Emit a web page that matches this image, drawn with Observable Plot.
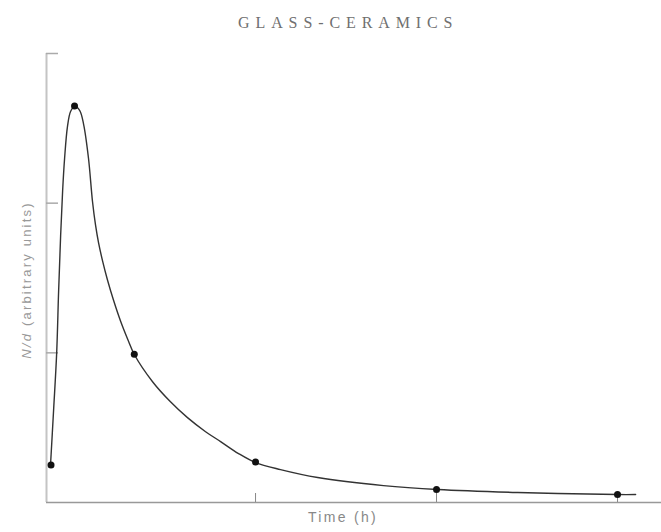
<!DOCTYPE html>
<html>
<head>
<meta charset="utf-8">
<script src="https://cdn.jsdelivr.net/npm/d3@7"></script>
<script src="https://cdn.jsdelivr.net/npm/@observablehq/plot@0.6"></script>
<style>
  body { margin: 0; background: #fff; }
  #title { height: 40px; width: 661px; position: relative; }
  #title span { position: absolute; left: 238px; top: 14px; font-family: "Liberation Serif", "DejaVu Serif", serif; font-size: 16px; letter-spacing: 5.9px; color: #6f6f6f; white-space: nowrap; }
  #chart svg { display: block; }
</style>
</head>
<body>
<div id="title"><span id="titleText"></span></div>
<div id="chart"></div>
<script>
const titleText = "GLASS-CERAMICS";
const xLabel = "Time (h)";
const yLabel = "N/d (arbitrary units)";

// measured data points (arbitrary units)
const pointT = [-0.13, 0, 0.33, 1, 2, 3];
const pointN = [0.25, 2.65, 0.99, 0.27, 0.087, 0.053];

// traced fitted curve
const curveT = [-0.133, -0.116, -0.099, -0.088, -0.077, -0.066, -0.055, -0.039, -0.022, 0, 0.028, 0.050, 0.077, 0.099, 0.116, 0.133, 0.155, 0.182, 0.215, 0.254, 0.293, 0.331, 0.431, 0.530, 0.624, 0.724, 0.807, 0.906, 1.0, 1.138, 1.343, 1.707, 2.006, 2.448, 3.0, 3.1];
const curveN = [0.247, 0.613, 0.993, 1.413, 1.78, 2.08, 2.30, 2.513, 2.613, 2.647, 2.62, 2.527, 2.30, 2.013, 1.853, 1.733, 1.613, 1.487, 1.353, 1.213, 1.093, 0.987, 0.807, 0.673, 0.567, 0.473, 0.407, 0.327, 0.267, 0.22, 0.167, 0.113, 0.087, 0.067, 0.053, 0.053];

const xTicks = [1, 2, 3];
const yTicks = [1, 2, 3];
const xDomain = [-0.155, 3.243];
const yDomain = [0, 3];

document.getElementById("titleText").textContent = titleText;

const points = pointT.map((t, i) => ({t, n: pointN[i]}));
const curve = curveT.map((t, i) => ({t, n: curveN[i]}));

const chart = Plot.plot({
  width: 661,
  height: 492,
  marginLeft: 46,
  marginRight: 0,
  marginTop: 13,
  marginBottom: 30,
  x: {domain: xDomain},
  y: {domain: yDomain},
  style: {background: "#fff"},
  marks: [
    Plot.ruleX([xDomain[0]], {stroke: "#c4c4c4", strokeWidth: 2}),
    Plot.ruleY([0], {stroke: "#999", strokeWidth: 1.5}),
    Plot.axisX({ticks: xTicks, tickSize: -9, tickFormat: () => "", label: null, stroke: "#888"}),
    Plot.axisY({ticks: yTicks, tickSize: -12, tickFormat: () => "", label: null, stroke: "#aaa", strokeWidth: 1.5}),
    Plot.line(curve, {x: "t", y: "n", curve: "catmull-rom", stroke: "#333", strokeWidth: 1.4}),
    Plot.dot(points, {x: "t", y: "n", r: 3.5, fill: "#111", stroke: "none"}),
    Plot.text([xLabel], {frameAnchor: "bottom", textAnchor: "middle", dx: -11, dy: 19, fontFamily: "Liberation Sans, Arial, sans-serif", fontSize: 14, fill: "#888", className: "xlab"}),
    Plot.text([yLabel], {frameAnchor: "left", textAnchor: "middle", rotate: -90, dx: -20, dy: 2, fontFamily: "Liberation Sans, Arial, sans-serif", fontSize: 13, fill: "#999", className: "ylab"})
  ]
});
document.getElementById("chart").appendChild(chart);

d3.select(chart).selectAll(".xlab text").style("letter-spacing", "2.3px");
d3.select(chart).selectAll(".ylab text").style("letter-spacing", "2.2px").each(function() {
  const el = d3.select(this);
  const txt = el.text();
  const head = "N/d";
  el.text(null);
  el.append("tspan").attr("font-style", "italic").text(head);
  el.append("tspan").text(txt.slice(head.length));
});
</script>
</body>
</html>
